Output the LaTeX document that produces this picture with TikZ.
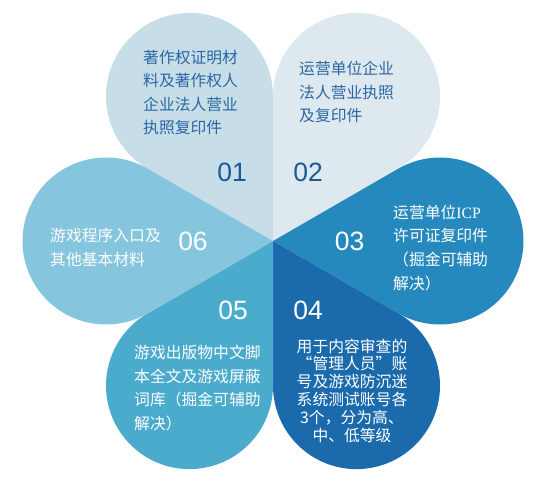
\documentclass[tikz,border=0pt]{standalone}
\usepackage{fontspec}
\setmainfont{Liberation Sans}
\newfontfamily\cjk{Noto Sans CJK SC}
\newfontfamily\serifi{Liberation Serif}
\definecolor{pa}{RGB}{199,222,232}
\definecolor{pb}{RGB}{222,232,239}
\definecolor{pc}{RGB}{37,137,189}
\definecolor{pd}{RGB}{27,106,172}
\definecolor{pe}{RGB}{74,171,205}
\definecolor{pf}{RGB}{133,198,222}
\definecolor{darktxt}{RGB}{43,103,165}
\definecolor{darknum}{RGB}{27,90,151}
\tikzset{
  txt/.style={inner sep=0pt, font=\cjk\fontsize{15.8}{23.6}\selectfont, align=left, anchor=west},
  num/.style={inner sep=0pt, font=\fontsize{26.5}{30}\selectfont},
}
\newcommand\petalshape[2]{%
  \fill[#2, shift={(273,239)}, rotate=#1] (0,0) -- (30:144.6)
    arc[start angle=120, end angle=-120, radius=83.5] -- cycle;}
\begin{document}
\begin{tikzpicture}[x=1pt,y=1pt]
\useasboundingbox (0,0) rectangle (545,480);
\petalshape{120}{pa}
\petalshape{60}{pb}
\petalshape{0}{pc}
\petalshape{-60}{pd}
\petalshape{-120}{pe}
\petalshape{180}{pf}

\node[txt, text=darktxt] (t1) at (143,387.5) {著作权证明材\\料及著作权人\\企业法人营业\\执照复印件};
\node[txt, text=darktxt] (t2) at (299,388) {运营单位企业\\法人营业执照\\及复印件};
\node[txt, text=white] (t3) at (393,232.25) {运营单位{\serifi ICP}\\许可证复印件\\（掘金可辅助\\解决）};
\node[txt, text=white, anchor=center, align=center, font=\cjk\fontsize{15.8}{17.8}\selectfont] (t4) at (352,89.5) {用于内容审查的\\“管理人员”账\\号及游戏防沉迷\\系统测试账号各\\3个，分为高、\\中、低等级};
\node[txt, text=white] (t5) at (134,92) {游戏出版物中文脚\\本全文及游戏屏蔽\\词库（掘金可辅助\\解决）};
\node[txt, text=white] (t6) at (50,232.5) {游戏程序入口及\\其他基本材料};

\node[num, text=darknum] (n1) at (232,308) {01};
\node[num, text=darknum] (n2) at (308,308) {02};
\node[num, text=white] (n3) at (349.5,239) {03};
\node[num, text=white] (n4) at (308,170) {04};
\node[num, text=white] (n5) at (233,170) {05};
\node[num, text=white] (n6) at (193,239) {06};
\end{tikzpicture}
\end{document}
